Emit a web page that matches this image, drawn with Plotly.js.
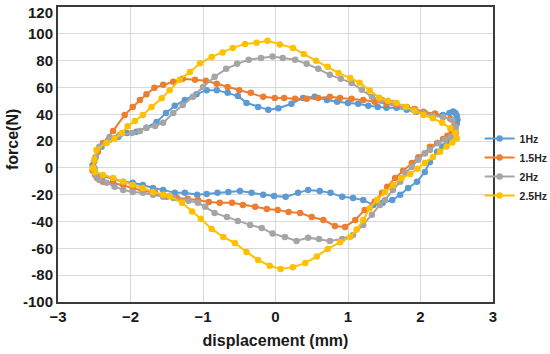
<!DOCTYPE html>
<html>
<head>
<meta charset="utf-8">
<script src="https://cdn.plot.ly/plotly-3.0.1.min.js"></script>
<style>html,body{margin:0;padding:0;background:#fff;}#chart{width:550px;height:354px;}</style>
</head>
<body>
<div id="chart"></div>
<script>
// 1Hz
const x1Hz = [-2.52,-2.48,-2.40,-2.29,-2.17,-2.05,-1.92,-1.78,-1.64,-1.51,-1.39,-1.25,-1.09,-0.95,-0.81,-0.66,-0.52,-0.40,-0.24,-0.10,0.04,0.22,0.38,0.54,0.71,0.85,1.00,1.14,1.28,1.41,1.53,1.67,1.81,1.94,2.06,2.20,2.31,2.40,2.45,2.48,2.50,2.51,2.50,2.48,2.44,2.37,2.30,2.23,2.13,2.06,1.95,1.83,1.72,1.61,1.48,1.35,1.21,1.07,0.92,0.76,0.61,0.45,0.31,0.14,-0.02,-0.17,-0.33,-0.49,-0.65,-0.80,-0.95,-1.08,-1.25,-1.39,-1.55,-1.69,-1.83,-1.97,-2.10,-2.24,-2.38,-2.49,-2.52];
const y1Hz = [2,8,15.7,21,23,26,27,30,34.3,41,46.3,50.7,55,58,58,56,53.7,48.5,45.5,43.3,44.5,47.8,52.2,53,50.7,49.3,48.5,47.8,46.3,45.5,44.8,44.8,43.3,41.8,41,40.3,39.5,41,42,41,39,36,33,30,26,20,16,12,4.5,-3,-10.4,-15,-20,-24,-26,-27.6,-24,-22.4,-21.6,-18.6,-17.2,-16.4,-18.6,-21.6,-20.9,-20,-18.6,-17.2,-17.9,-18.6,-19.4,-20,-18.6,-18.6,-16.4,-15,-12.7,-11,-10.4,-8,-6,-3,2];
// 1.5Hz
const x15Hz = [-2.52,-2.50,-2.45,-2.38,-2.24,-2.08,-1.97,-1.87,-1.78,-1.67,-1.55,-1.41,-1.28,-1.11,-0.96,-0.81,-0.66,-0.50,-0.34,-0.17,-0.01,0.12,0.27,0.43,0.59,0.75,0.89,1.05,1.21,1.37,1.53,1.67,1.81,1.92,2.04,2.20,2.31,2.41,2.47,2.48,2.43,2.37,2.31,2.23,2.13,2.06,1.97,1.88,1.76,1.65,1.54,1.47,1.37,1.23,1.10,0.96,0.82,0.66,0.50,0.34,0.18,0.03,-0.12,-0.28,-0.45,-0.60,-0.77,-0.92,-1.07,-1.21,-1.36,-1.50,-1.66,-1.83,-1.97,-2.10,-2.24,-2.38,-2.46,-2.52];
const y15Hz = [-2,5,12,18.6,27.6,39.5,45.5,50.7,55,59.7,62,64.2,66.4,65.7,65,62.7,60.4,58,56,53,52.2,52.2,51.5,51.5,52.2,53,52.2,51.5,50.7,49.3,47.8,47,45.5,44,41.8,40.3,38,36.6,32,29,27,24,21.5,18.6,15.7,11,8,3.7,-2.2,-7.5,-14,-18.6,-25,-31.3,-38.8,-44,-43.3,-38.8,-36.6,-33.6,-32.8,-31.3,-30.6,-29,-27.6,-26,-26,-25.4,-24,-23,-22.4,-21.6,-18.6,-17,-15,-12.7,-11,-10.4,-7.5,-2];
// 2Hz
const x2Hz = [-2.50,-2.48,-2.43,-2.29,-2.15,-1.98,-1.87,-1.78,-1.66,-1.55,-1.41,-1.28,-1.14,-1.00,-0.84,-0.68,-0.53,-0.37,-0.20,-0.04,0.10,0.27,0.43,0.59,0.75,0.90,1.05,1.19,1.33,1.47,1.61,1.76,1.90,2.04,2.17,2.31,2.44,2.48,2.49,2.42,2.34,2.24,2.13,2.06,1.97,1.88,1.79,1.72,1.62,1.51,1.44,1.33,1.21,1.07,0.92,0.75,0.60,0.45,0.29,0.13,-0.04,-0.19,-0.35,-0.52,-0.67,-0.84,-0.97,-1.07,-1.20,-1.41,-1.55,-1.69,-1.83,-1.97,-2.10,-2.22,-2.33,-2.43,-2.49,-2.50];
const y2Hz = [0,8,15.7,23,24.6,26,27.6,30,31.3,33.6,41,47,53,60.4,68,73.9,77.6,80.6,82,83,82,80.6,77.6,73.9,69.4,66.4,63.4,58.2,53,50.7,48.5,45.5,43.3,41,38.8,38,35.8,30.6,26,23,21,18.6,13.4,11,6,0.7,-3.7,-10.4,-16.4,-23.9,-27.6,-35,-42.5,-50,-53,-54.5,-53,-52,-54.5,-51.5,-49,-44.8,-42.5,-39.5,-36.6,-33.6,-29,-26,-24.5,-22.4,-21.6,-20,-18.6,-17.9,-16.4,-14,-11,-9,-5.2,0];
// 2.5Hz
const x25Hz = [-2.52,-2.50,-2.47,-2.33,-2.22,-2.12,-2.04,-1.94,-1.83,-1.71,-1.57,-1.46,-1.32,-1.18,-1.04,-0.88,-0.73,-0.59,-0.42,-0.26,-0.11,0.06,0.24,0.39,0.56,0.72,0.87,1.03,1.16,1.30,1.43,1.55,1.67,1.80,1.92,2.04,2.17,2.30,2.41,2.48,2.50,2.44,2.36,2.27,2.17,2.06,1.96,1.86,1.74,1.62,1.51,1.40,1.30,1.21,1.12,1.03,0.89,0.72,0.57,0.41,0.24,0.07,-0.08,-0.24,-0.40,-0.56,-0.72,-0.88,-1.03,-1.15,-1.29,-1.46,-1.55,-1.69,-1.83,-1.97,-2.10,-2.24,-2.38,-2.49,-2.52];
const y25Hz = [0,6,13.4,18.6,21.6,26,31,35,39.5,45.5,52,58,65.7,71.6,78,82.8,86,89.5,92.5,93.3,94.8,92,89.5,85,80,75.4,70.7,67,63.6,57.7,52.4,50,48.5,45.5,42.5,39.5,37,33.6,29.6,26,22,19,16,12,8,3.7,-0.7,-4.5,-7.5,-12.7,-17.9,-23.9,-30,-38.8,-46,-51.5,-55.5,-60.4,-66,-71,-74,-75.4,-73,-68.6,-62.7,-56,-51.5,-45.5,-38,-32.5,-26,-21,-20,-17.9,-15,-12.7,-10.4,-7.5,-5.2,-3,0];

const seriesNames = ['1Hz','1.5Hz','2Hz','2.5Hz'];
const seriesX = [x1Hz, x15Hz, x2Hz, x25Hz];
const seriesY = [y1Hz, y15Hz, y2Hz, y25Hz];
const colors = ['#5B9BD5','#ED7D31','#A5A5A5','#FFC000'];
const yTickVals = [-100,-80,-60,-40,-20,0,20,40,60,80,100,120];
const yTopTick = 120;

const traces = seriesNames.map((n,i)=>({
  type:'scatter', mode:'lines+markers', name:n,
  x: seriesX[i], y: seriesY[i],
  line:{color:colors[i], width:2},
  marker:{color:colors[i], size:6.5}
}));

const F = 'Liberation Sans, Arial, sans-serif';
const tickFont = {family:F, size:15, weight:'bold', color:'#1a1a1a'};
const layout = {
  width:550, height:354,
  margin:{l:58, r:57, t:7, b:52, autoexpand:false},
  paper_bgcolor:'#fff', plot_bgcolor:'#fff',
  showlegend:true,
  legend:{xref:'container', yref:'container', x:0.872, xanchor:'left', y:0.528, yanchor:'middle', font:{family:F, size:10.5, weight:'bold', color:'#262626'}, bgcolor:'rgba(0,0,0,0)', tracegroupgap:0},
  xaxis:{range:[-3,3], dtick:1, tick0:0, showgrid:true, gridcolor:'#d9d9d9', gridwidth:1, zeroline:false,
    showline:true, mirror:true, linecolor:'#3a3a3a', linewidth:2, ticks:'', ticklabeloverflow:'allow',
    tickfont:tickFont,
    title:{text:'displacement (mm)', font:{family:F, size:16, weight:'bold', color:'#1a1a1a'}, standoff:11}},
  yaxis:{range:[-100,120], tickmode:'array', tickvals:yTickVals,
    ticktext:yTickVals.map(v => v === yTopTick ? '' : String(v)),
    showgrid:true, gridcolor:'#d9d9d9', gridwidth:1, zeroline:false,
    showline:true, mirror:true, linecolor:'#3a3a3a', linewidth:2, ticks:'', ticklabelstandoff:0, ticklabeloverflow:'allow',
    tickfont:tickFont},
  annotations:[
    {text:'force(N)', xref:'paper', yref:'paper', x:-0.1057, y:0.549, xanchor:'center', yanchor:'middle',
     textangle:-90, showarrow:false, font:{family:F, size:16, weight:'bold', color:'#1a1a1a'}},
    {text:String(yTopTick), xref:'paper', yref:'y', x:0, y:yTopTick, xanchor:'right', yanchor:'middle',
     xshift:-3, yshift:-5, showarrow:false, font:tickFont}
  ]
};
Plotly.newPlot('chart', traces, layout, {displayModeBar:false, staticPlot:true});
</script>
</body>
</html>
